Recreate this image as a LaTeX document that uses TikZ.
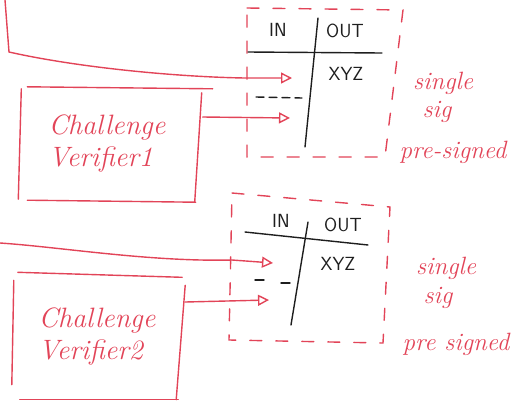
\documentclass[tikz,border=0pt]{standalone}
\usetikzlibrary{arrows.meta}
\definecolor{pen}{RGB}{226,68,88}
\definecolor{ink}{RGB}{30,30,30}
\tikzset{
  redline/.style={draw=pen, line width=1.4pt, line cap=round},
  blackline/.style={draw=ink, line width=1.4pt, line cap=round},
  frame/.style={redline, dash pattern=on 12pt off 14pt},
  feed/.style={redline, -{Triangle[open, length=11pt, width=11pt, line width=1.4pt]}},
  verifier/.style={minimum width=175pt, minimum height=112pt, text=pen,
    align=left, inner sep=0pt, font=\itshape\fontsize{28}{32}\selectfont},
  cell/.style={text=ink, font=\sffamily\fontsize{19}{21}\selectfont},
  note/.style={text=pen, font=\itshape\fontsize{25}{27}\selectfont}
}
\begin{document}
\begin{tikzpicture}[x=1pt,y=-1pt]
\useasboundingbox (0,0) rectangle (515,400);

% ---------- upper block ----------
\draw[frame] (247,8) -- (403,10) -- (385,157) -- (247,157) -- cycle;
\node[cell] (in1) at (278,30) {IN};
\node[cell] (out1) at (345,31) {OUT};
\node[cell] (xyz1) at (346,74) {XYZ};
\draw[blackline] (248,52) -- (382,53);
\draw[blackline] (318,18) -- (305,147);
\draw[blackline, dash pattern=on 8pt off 5pt] (256,97) -- (302,98);
\coordinate (p1) at (292,78);
\coordinate (p2) at (290,118);
\coordinate (s1) at (5,0);

\node[verifier] (v1) at (107,143) {Challenge\\Verifier1};
\draw[redline] ([xshift=8pt]v1.north west) -- ([xshift=18pt,yshift=-2pt]v1.north east);
\draw[redline] ([xshift=2pt,yshift=-2pt]v1.north west) -- ([xshift=-1pt]v1.south west);
\draw[redline] ([xshift=7pt,yshift=-6pt]v1.north east) -- ([xshift=0pt,yshift=-3pt]v1.south east);
\draw[redline] ([xshift=8pt,yshift=-1pt]v1.south west) -- ([xshift=1pt,yshift=-3pt]v1.south east);

\draw[feed] (s1) -- (9,52) .. controls (80,68) and (180,77) .. (245,78) -- (p1);
\draw[feed] ([xshift=8pt,yshift=26pt]v1.east) -- (p2);

\node[note] (n1) at (443,83) {single};
\node[note] (n2) at (437,112) {sig};
\node[note] (n3) at (453,152) {pre-signed};

% ---------- lower block ----------
\draw[frame] (232,193) -- (390,207) -- (383,343) -- (229,340) -- cycle;
\node[cell] (in2) at (281,221) {IN};
\node[cell] (out2) at (343,225) {OUT};
\node[cell] (xyz2) at (338,264) {XYZ};
\draw[blackline] (245,232) -- (368,245);
\draw[blackline] (308,222) -- (291,325);
\draw[blackline] (255,280) -- (264,280);
\draw[blackline] (281,283) -- (290,283);
\coordinate (p3) at (273,263);
\coordinate (p4) at (269,300);
\coordinate (s2) at (0,243);

\node[verifier, minimum width=168pt, minimum height=125pt] (v2) at (97,336) {Challenge\\Verifier2};
\draw[redline] ([xshift=5pt,yshift=1pt]v2.north west) -- ([xshift=1pt,yshift=-4pt]v2.north east);
\draw[redline] ([xshift=1pt,yshift=-7pt]v2.north west) -- ([xshift=-1pt,yshift=14pt]v2.south west);
\draw[redline] ([xshift=4pt,yshift=-12pt]v2.north east) -- ([xshift=-5pt,yshift=-1pt]v2.south east);
\draw[redline] ([xshift=7pt,yshift=-1pt]v2.south west) -- ([xshift=-3pt,yshift=-1pt]v2.south east);

\draw[feed] (s2) .. controls (60,247) and (150,262) .. (232,260) -- (p3);
\draw[feed] ([xshift=4pt,yshift=34pt]v2.east) -- (p4);

\node[note] (n4) at (446,268) {single};
\node[note] (n5) at (438,298) {sig};
\node[note] (n6) at (456,344) {pre signed};
\end{tikzpicture}
\end{document}
